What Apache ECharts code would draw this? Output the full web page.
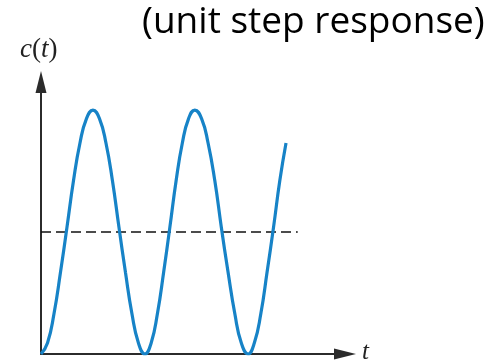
<!DOCTYPE html>
<html>
<head>
<meta charset="utf-8">
<script src="https://cdn.jsdelivr.net/npm/echarts@6/dist/echarts.min.js"></script>
<style>
  html, body { margin: 0; padding: 0; background: #fff; }
  #chart { width: 489px; height: 363px; }
</style>
</head>
<body>
<div id="chart"></div>
<script>
// Undamped second-order system: output oscillates between 0 and 2 around the final value 1.
const timeValues = [
  0, 0.25, 0.5, 0.75, 1.0, 1.25, 1.5, 1.75, 2.0,
  2.25, 2.5, 2.75, 3.0, 3.25, 3.5, 3.75, 4.0,
  4.24, 4.48, 4.72, 4.96, 5.2, 5.44, 5.68, 5.92,
  6.18, 6.43, 6.69, 6.94, 7.2, 7.46, 7.71, 7.97,
  8.21, 8.46, 8.7, 8.95, 9.19, 9.43
];
const responseValues = [
  0, 0.09, 0.33, 0.67, 1.04, 1.42, 1.73, 1.93, 2.0,
  1.93, 1.73, 1.42, 1.04, 0.67, 0.33, 0.09, 0,
  0.09, 0.33, 0.67, 1.04, 1.42, 1.73, 1.93, 2.0,
  1.93, 1.73, 1.42, 1.04, 0.67, 0.33, 0.09, 0,
  0.09, 0.33, 0.67, 1.04, 1.42, 1.73
];
const finalValue = 1;
const referenceEnd = 9.88;
const titleText = '(unit step response)';
const xAxisName = 't';

const chart = echarts.init(document.getElementById('chart'), null, { renderer: 'canvas' });

chart.setOption({
  animation: false,
  backgroundColor: '#ffffff',
  grid: { left: 41, right: 144, top: 82, bottom: 9, containLabel: false },
  xAxis: {
    type: 'value', min: 0, max: 11.7,
    axisLine: { show: true, lineStyle: { color: '#2b2b2b', width: 2 },
      symbol: ['none', 'triangle'], symbolSize: [11, 22] },
    axisTick: { show: false }, axisLabel: { show: false }, splitLine: { show: false }
  },
  yAxis: {
    type: 'value', min: 0, max: 2.23,
    axisLine: { show: true, onZero: false, lineStyle: { color: '#2b2b2b', width: 2 },
      symbol: ['none', 'triangle'], symbolSize: [11, 22] },
    axisTick: { show: false }, axisLabel: { show: false }, splitLine: { show: false }
  },
  series: [
    {
      type: 'line',
      data: timeValues.map((t, i) => [t, responseValues[i]]),
      showSymbol: false,
      smooth: 0.5,
      lineStyle: { color: '#1783c7', width: 3.2 },
      z: 3
    },
    {
      type: 'line',
      data: [[0, finalValue], [referenceEnd, finalValue]],
      showSymbol: false,
      lineStyle: { color: '#111', width: 1.5, type: [10, 5] },
      z: 2
    }
  ],
  graphic: [
    {
      type: 'text', left: 142, top: 4,
      style: { text: titleText, font: '37px "Open Sans", sans-serif', fill: '#000' }
    },
    {
      type: 'text', left: 20, top: 36,
      style: {
        text: '{i|c}{n|(}{i|t}{n|)}',
        rich: {
          i: { font: 'italic 27px "Liberation Serif", serif', fill: '#222' },
          n: { font: '27px "Liberation Serif", serif', fill: '#222' }
        }
      }
    },
    {
      type: 'text', left: 362, top: 340,
      style: { text: xAxisName, font: 'italic 25px "Liberation Serif", serif', fill: '#222' }
    }
  ]
});
</script>
</body>
</html>
